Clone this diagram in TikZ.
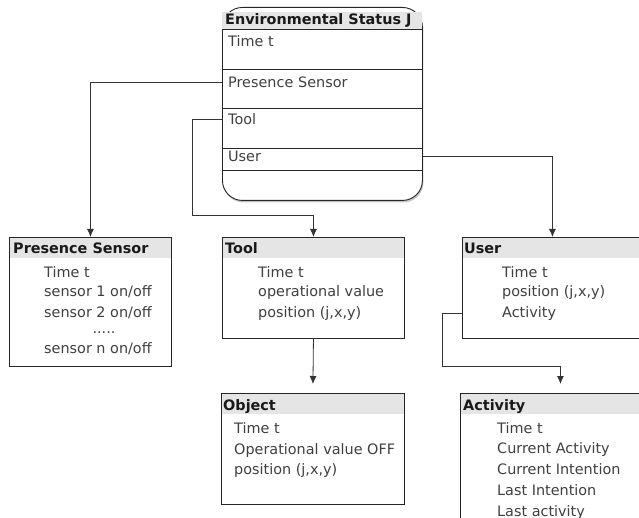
\documentclass[tikz,border=0pt]{standalone}
\usepackage{fontspec}
\setmainfont{DejaVu Sans}
\usetikzlibrary{arrows.meta}
\usetikzlibrary{shadows}
\newcommand{\boxfont}{\fontsize{14.4pt}{20pt}\selectfont}
\colorlet{bandgray}{black!10}
\colorlet{linegray}{black!85}
\colorlet{textgray}{black!75}
\begin{document}
\begin{tikzpicture}[x=1pt,y=-1pt,
classbox/.style={draw=linegray,line width=0.9pt,inner sep=0pt,anchor=north west},
band/.style={fill=bandgray,draw=none,inner sep=0pt,anchor=north west},
heading/.style={font=\boxfont\bfseries,text=black!90,inner sep=0pt,anchor=west,text height=11pt,text depth=3pt},
entry/.style={font=\boxfont,text=textgray,inner sep=0pt,anchor=west,text height=11pt,text depth=3pt},
rowlabel/.style={font=\boxfont,text=textgray,inner xsep=6pt,inner ysep=0pt,text width=188pt,anchor=west},
link/.style={draw=black!80,line width=0.8pt,-{Latex[length=8pt,width=7pt]}}]
\useasboundingbox (0,0) rectangle (639,518);
\fill[white] (0,0) rectangle (639,518);
\clip (0,0) rectangle (639,518);

\node[classbox,fill=white,rounded corners=20pt,minimum width=200pt,minimum height=193pt,drop shadow={shadow xshift=1pt,shadow yshift=-2pt,fill=black!45}] (env) at (222,7) {};
\node[band,minimum width=200pt,minimum height=17pt] (envband) at (222,12) {};
\node[heading] (envtitle) at (225,21) {Environmental Status J};
\draw[draw=linegray,line width=0.9pt,fill=white] (222,29) rectangle (422,170);
\draw[draw=linegray,line width=0.9pt] (222,69) -- (422,69);
\draw[draw=linegray,line width=0.9pt] (222,108) -- (422,108);
\draw[draw=linegray,line width=0.9pt] (222,148) -- (422,148);
\node[rowlabel] (envtime) at (222,41) {Time t};
\node[rowlabel] (envsensor) at (222,82) {Presence Sensor};
\node[rowlabel] (envtool) at (222,119) {Tool};
\node[rowlabel] (envuser) at (222,156) {User};

\node[band,minimum width=162pt,minimum height=21pt] (psband) at (9,237) {};
\node[classbox,minimum width=162pt,minimum height=129pt] (psbox) at (9,237) {};
\node[heading] (pstitle) at (13,250) {Presence Sensor};
\node[entry] (pstime) at (44,273) {Time t};
\node[entry] (psone) at (44,293) {sensor 1 on/off};
\node[entry] (pstwo) at (44,313) {sensor 2 on/off};
\node[font=\boxfont,text=textgray,inner sep=0pt,anchor=base] (psdots) at (104,333) {.....};
\node[entry] (psn) at (44,349) {sensor n on/off};

\node[band,minimum width=182pt,minimum height=21pt] (toolband) at (222,237) {};
\node[classbox,minimum width=182pt,minimum height=101pt] (toolbox) at (222,237) {};
\node[heading] (tooltitle) at (225,250) {Tool};
\node[entry] (tooltime) at (258,273) {Time t};
\node[entry] (toolvalue) at (258,293) {operational value};
\node[entry] (toolpos) at (258,313) {position (j,x,y)};

\node[band,minimum width=180pt,minimum height=21pt] (userband) at (462,237) {};
\node[classbox,minimum width=180pt,minimum height=101pt] (userbox) at (462,237) {};
\node[heading] (usertitle) at (464,250) {User};
\node[entry] (usertime) at (502,273) {Time t};
\node[entry] (userpos) at (502,293) {position (j,x,y)};
\node[entry] (useract) at (502,313) {Activity};

\node[band,minimum width=183pt,minimum height=21pt] (objband) at (221,393) {};
\node[classbox,minimum width=183pt,minimum height=111pt] (objbox) at (221,393) {};
\node[heading] (objtitle) at (223,406) {Object};
\node[entry] (objtime) at (234,429) {Time t};
\node[entry] (objvalue) at (234,450) {Operational value OFF};
\node[entry] (objpos) at (234,470) {position (j,x,y)};

\node[band,minimum width=200pt,minimum height=21pt] (actband) at (460,393) {};
\node[classbox,minimum width=200pt,minimum height=150pt] (actbox) at (460,393) {};
\node[heading] (acttitle) at (463,406) {Activity};
\node[entry] (acttime) at (497,429) {Time t};
\node[entry] (actcurrent) at (497,449) {Current Activity};
\node[entry] (actintent) at (497,470) {Current Intention};
\node[entry] (actlastint) at (497,491) {Last Intention};
\node[entry] (actlast) at (497,512) {Last activity};

\draw[link] (envsensor.west) -| (psbox.north);
\draw[link] (envtool.west) -- ++(-30,0) |- ([yshift=22pt]toolbox.north) -- (toolbox.north);
\draw[link] (envuser.east) -| (userbox.north);
\draw[link] (toolbox.south) -- ([yshift=9pt]objbox.north);
\draw[link] (userbox.west |- useract.west) -- ++(-20,0) |- ([yshift=27pt]actbox.north) -- ([yshift=9pt]actbox.north);
\end{tikzpicture}
\end{document}
